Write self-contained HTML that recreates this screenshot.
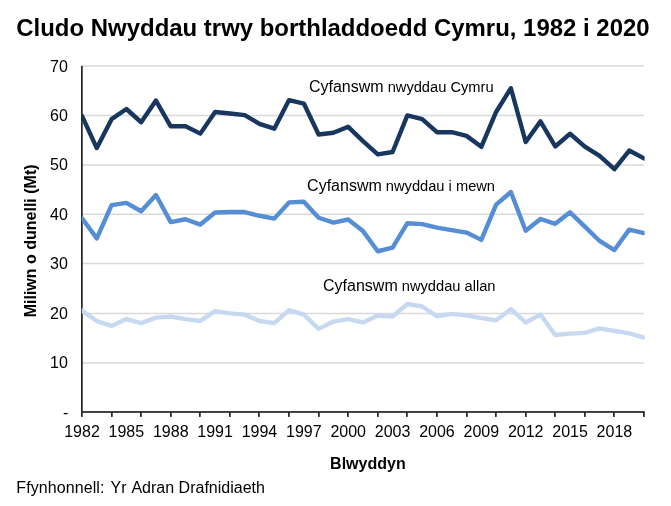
<!DOCTYPE html>
<html><head><meta charset="utf-8"><title>Cludo Nwyddau trwy borthladdoedd Cymru</title>
<style>
html,body{margin:0;padding:0;background:#fff;}
body{width:671px;height:506px;overflow:hidden;font-family:"Liberation Sans",sans-serif;}
svg{display:block;will-change:transform;}
svg text{font-family:"Liberation Sans",sans-serif;fill:#000;font-kerning:none;}
</style></head><body>
<svg width="671" height="506" viewBox="0 0 671 506">
<defs><clipPath id="plot"><rect x="81.75" y="60" width="562.85" height="352"/></clipPath></defs>
<rect width="671" height="506" fill="#fff"/>
<g stroke="#d9d9d9" stroke-width="1.5">
<line x1="82.0" x2="644.0" y1="363" y2="363"/>
<line x1="82.0" x2="644.0" y1="313.4" y2="313.4"/>
<line x1="82.0" x2="644.0" y1="263.5" y2="263.5"/>
<line x1="82.0" x2="644.0" y1="214.2" y2="214.2"/>
<line x1="82.0" x2="644.0" y1="164.95" y2="164.95"/>
<line x1="82.0" x2="644.0" y1="115.45" y2="115.45"/>
<line x1="82.0" x2="644.0" y1="66" y2="66"/>
</g>
<g fill="#2a2a2a">
<rect x="81.0" y="65.8" width="1.75" height="351.10"/>
<rect x="81.0" y="411.1" width="563.75" height="1.75"/>
<rect x="111" y="412.0" width="1.75" height="4.9"/>
<rect x="140" y="412.0" width="1.75" height="4.9"/>
<rect x="170" y="412.0" width="1.75" height="4.9"/>
<rect x="199" y="412.0" width="1.75" height="4.9"/>
<rect x="229" y="412.0" width="1.75" height="4.9"/>
<rect x="258" y="412.0" width="1.75" height="4.9"/>
<rect x="288" y="412.0" width="1.75" height="4.9"/>
<rect x="318" y="412.0" width="1.75" height="4.9"/>
<rect x="347" y="412.0" width="1.75" height="4.9"/>
<rect x="377" y="412.0" width="1.75" height="4.9"/>
<rect x="406" y="412.0" width="1.75" height="4.9"/>
<rect x="436" y="412.0" width="1.75" height="4.9"/>
<rect x="466" y="412.0" width="1.75" height="4.9"/>
<rect x="495" y="412.0" width="1.75" height="4.9"/>
<rect x="525" y="412.0" width="1.75" height="4.9"/>
<rect x="554" y="412.0" width="1.75" height="4.9"/>
<rect x="584" y="412.0" width="1.75" height="4.9"/>
<rect x="613" y="412.0" width="1.75" height="4.9"/>
<rect x="643" y="412.0" width="1.75" height="4.9"/>
</g>
<g clip-path="url(#plot)" fill="none" stroke-width="4.4" stroke-linejoin="round" stroke-linecap="round">
<path d="M82.00,310.67 L96.79,321.05 L111.58,325.90 L126.37,319.07 L141.16,323.18 L155.95,317.59 L170.74,316.60 L185.53,319.07 L200.32,320.95 L215.11,311.17 L229.89,313.39 L244.68,314.63 L259.47,321.05 L274.26,323.18 L289.05,310.18 L303.84,314.63 L318.63,328.86 L333.42,321.55 L348.21,319.07 L363.00,322.44 L377.79,315.61 L392.58,316.50 L407.37,304.00 L422.16,306.47 L436.95,316.26 L451.74,313.88 L466.53,315.37 L481.32,318.09 L496.11,320.21 L510.89,309.19 L525.68,322.44 L540.47,314.63 L555.26,335.04 L570.05,333.66 L584.84,332.91 L599.63,328.47 L614.42,330.94 L629.21,333.41 L644.00,337.61" stroke="#c6d9f1"/>
<path d="M82.00,218.24 L96.79,238.41 L111.58,205.14 L126.37,202.92 L141.16,211.22 L155.95,195.01 L170.74,222.10 L185.53,219.23 L200.32,224.57 L215.11,212.56 L229.89,212.06 L244.68,212.06 L259.47,215.77 L274.26,218.64 L289.05,202.42 L303.84,201.68 L318.63,217.75 L333.42,222.59 L348.21,219.48 L363.00,231.09 L377.79,251.26 L392.58,247.65 L407.37,223.18 L422.16,224.17 L436.95,227.63 L451.74,230.10 L466.53,232.57 L481.32,239.89 L496.11,204.65 L510.89,192.04 L525.68,230.75 L540.47,218.98 L555.26,223.83 L570.05,212.31 L584.84,226.64 L599.63,240.98 L614.42,250.02 L629.21,229.61 L644.00,233.07" stroke="#558ed5"/>
<path d="M82.00,115.92 L96.79,148.05 L111.58,119.14 L126.37,109.00 L141.16,122.25 L155.95,100.60 L170.74,126.30 L185.53,126.30 L200.32,133.62 L215.11,111.97 L229.89,113.45 L244.68,115.18 L259.47,123.83 L274.26,128.68 L289.05,100.11 L303.84,103.57 L318.63,134.46 L333.42,132.73 L348.21,126.80 L363.00,141.13 L377.79,154.38 L392.58,152.01 L407.37,115.43 L422.16,119.04 L436.95,132.23 L451.74,132.23 L466.53,135.89 L481.32,146.82 L496.11,111.97 L510.89,88.24 L525.68,142.02 L540.47,121.36 L555.26,146.47 L570.05,133.72 L584.84,146.57 L599.63,155.96 L614.42,169.21 L629.21,150.52 L644.00,158.43" stroke="#17375e"/>
</g>
<g font-size="16" text-anchor="end">
<text x="67.9" y="368.17">10</text>
<text x="67.9" y="318.74">20</text>
<text x="67.9" y="269.31">30</text>
<text x="67.9" y="219.89">40</text>
<text x="67.9" y="170.46">50</text>
<text x="67.9" y="121.03">60</text>
<text x="67.9" y="71.60">70</text>
<text x="68.3" y="417.80">-</text>
</g>
<g font-size="16" text-anchor="middle">
<text x="82.00" y="436.5">1982</text>
<text x="126.37" y="436.5">1985</text>
<text x="170.74" y="436.5">1988</text>
<text x="215.11" y="436.5">1991</text>
<text x="259.47" y="436.5">1994</text>
<text x="303.84" y="436.5">1997</text>
<text x="348.21" y="436.5">2000</text>
<text x="392.58" y="436.5">2003</text>
<text x="436.95" y="436.5">2006</text>
<text x="481.32" y="436.5">2009</text>
<text x="525.68" y="436.5">2012</text>
<text x="570.05" y="436.5">2015</text>
<text x="614.42" y="436.5">2018</text>
</g>
<text transform="translate(16.3,35.5) scale(1,0.96)" font-size="23.95" font-weight="bold">Cludo Nwyddau trwy borthladdoedd Cymru, 1982 i 2020</text>
<text x="330.1" y="468.8" font-size="16" font-weight="bold">Blwyddyn</text>
<text transform="translate(35.6,317.3) rotate(-90)" font-size="16" font-weight="bold">Miliwn o dunelli (Mt)</text>
<text x="16.3" y="493" font-size="16"><tspan style="letter-spacing:0.09px">Ffynhonnell: </tspan><tspan x="110.6">Yr </tspan><tspan x="131.4">Adran </tspan><tspan x="178.6">Drafnidiaeth</tspan></text>
<text x="308.9" y="91.7" font-size="16">Cyfanswm<tspan font-size="14.67"> nwyddau Cymru</tspan></text>
<text x="307.1" y="191.3" font-size="16">Cyfanswm<tspan font-size="14.67"> nwyddau i mewn</tspan></text>
<text x="323.05" y="290.85" font-size="16">Cyfanswm<tspan font-size="14.67"> nwyddau allan</tspan></text>
</svg>
</body></html>
